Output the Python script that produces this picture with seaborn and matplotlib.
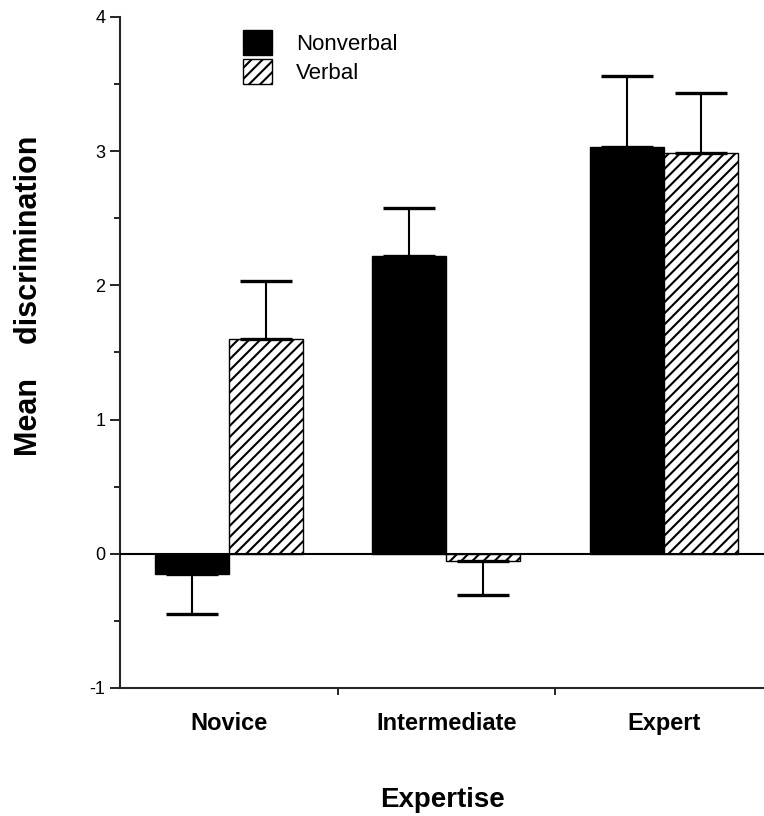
import pandas as pd
import matplotlib
matplotlib.use("Agg")
import matplotlib.pyplot as plt
import seaborn as sns

# Values
expertise = ["Novice", "Intermediate", "Expert"]
nonverbal_mean = [-0.15, 2.22, 3.03]
nonverbal_err = [0.30, 0.36, 0.53]
verbal_mean = [1.60, -0.05, 2.99]
verbal_err = [0.43, 0.26, 0.44]

sns.set_style("ticks")
plt.rcParams["font.family"] = ["Liberation Sans", "DejaVu Sans"]
plt.rcParams["hatch.linewidth"] = 1.5
plt.rcParams["hatch.color"] = "black"
plt.rcParams["axes.unicode_minus"] = False
plt.rcParams["text.color"] = "black"
plt.rcParams["axes.labelcolor"] = "black"
plt.rcParams["xtick.color"] = "black"
plt.rcParams["ytick.color"] = "black"

df = pd.DataFrame({
    "Expertise": expertise * 2,
    "Type": ["Nonverbal"] * 3 + ["Verbal"] * 3,
    "Mean": nonverbal_mean + verbal_mean,
})

fig = plt.figure(figsize=(7.64, 8.16), dpi=100)
ax = fig.add_axes([120 / 764, 128 / 816, 644 / 764, 671 / 816])

sns.barplot(data=df, x="Expertise", y="Mean", hue="Type",
            palette={"Nonverbal": "black", "Verbal": "white"},
            width=0.68, edgecolor="black", linewidth=1, ax=ax)

# hatch the verbal bars and add one-sided error bars (away from zero)
errs = [nonverbal_err, verbal_err]
bar_groups = list(ax.containers)
for i, cont in enumerate(bar_groups):
    for bar, e in zip(cont, errs[i]):
        if i == 1:
            bar.set_hatch("///")
        h = bar.get_height()
        x = bar.get_x() + bar.get_width() / 2
        y = bar.get_y() + h
        lo, hi = (0, e) if h > 0 else (e, 0)
        ax.errorbar(x, y, yerr=[[lo], [hi]], color="black", lw=1.5,
                    capsize=19, capthick=2.4, zorder=3)

ax.axhline(0, color="black", lw=1.5, zorder=4)

ax.set_ylim(-1, 4)
ax.set_xlim(-0.5, 2.46)
ax.set_yticks([-1, 0, 1, 2, 3, 4])
ax.set_yticks([-0.5, 0.5, 1.5, 2.5, 3.5], minor=True)
ax.set_xticks([0.5, 1.5], minor=True)
ax.tick_params(axis="y", which="major", length=7, width=1.2, labelsize=13)
ax.tick_params(axis="y", which="minor", length=4, width=1.2)
ax.tick_params(axis="x", which="major", length=0, labelsize=17, pad=17)
ax.tick_params(axis="x", which="minor", length=5, width=1.2)
for lab in ax.get_xticklabels():
    lab.set_fontweight("bold")

sns.despine(ax=ax)
ax.spines["left"].set_linewidth(1.5)
ax.spines["bottom"].set_linewidth(1.5)

ax.set_ylabel("Mean    discrimination", fontsize=22, fontweight="bold")
ax.yaxis.set_label_coords(-0.118, 0.585)
ax.set_xlabel("Expertise", fontsize=20, fontweight="bold", labelpad=38)

handles, labels = ax.get_legend_handles_labels()
handles[1].set_hatch("///")
ax.legend(handles, labels, loc="upper left", bbox_to_anchor=(0.16, 1.01),
          frameon=False, fontsize=16, handlelength=1.3, handleheight=1.3,
          handletextpad=1.1, labelspacing=0.2)

fig.savefig("out.png", dpi=100)
